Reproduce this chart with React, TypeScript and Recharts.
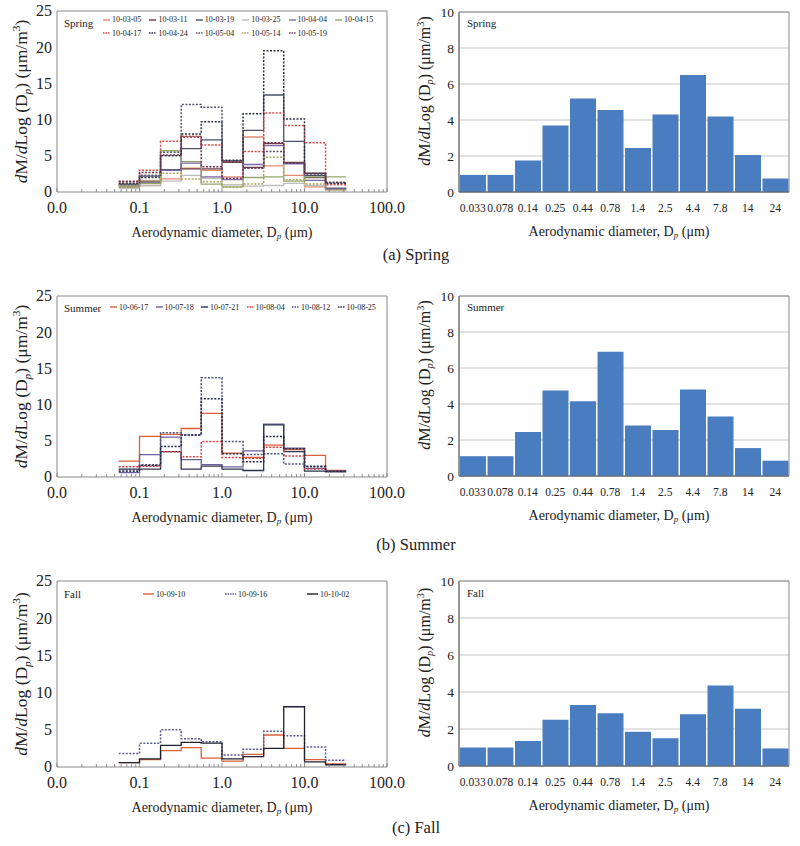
import React from "react";
import { LineChart, Line, XAxis, YAxis, BarChart, Bar, CartesianGrid, ReferenceArea, Legend } from "recharts";

const FONT = "Liberation Serif, Times New Roman, serif";
const SVG_TEXT: React.CSSProperties = { fontFamily: FONT };

// impactor stage edges (um) and the labels of the averaged bars
const BIN_EDGES = [0.056, 0.1, 0.18, 0.32, 0.56, 1.0, 1.8, 3.2, 5.6, 10, 18, 32];
const SIZE_LABELS = ["0.033", "0.078", "0.14", "0.25", "0.44", "0.78", "1.4", "2.5", "4.4", "7.8", "14", "24"];
const X_MAJOR = [0.01, 0.1, 1, 10, 100];
const X_TICKS = [
  0.01, 0.02, 0.03, 0.04, 0.05, 0.06, 0.07, 0.08, 0.09,
  0.1, 0.2, 0.3, 0.4, 0.5, 0.6, 0.7, 0.8, 0.9,
  1, 2, 3, 4, 5, 6, 7, 8, 9,
  10, 20, 30, 40, 50, 60, 70, 80, 90, 100,
];
const LEFT_Y_TICKS = [0, 5, 10, 15, 20, 25];
const RIGHT_Y_TICKS = [0, 2, 4, 6, 8, 10];

const SPRING_NAMES = ["10-03-05", "10-03-11", "10-03-19", "10-03-25", "10-04-04", "10-04-15", "10-04-17", "10-04-24", "10-05-04", "10-05-14", "10-05-19"];
const SPRING_VALUES = [
  [0.6, 0.9, 1.8, 3.3, 3.0, 2.1, 7.6, 3.6, 2.3, 0.7, 0.3],
  [1.1, 1.5, 3.0, 3.2, 3.2, 4.1, 3.4, 6.7, 4.1, 2.0, 0.5],
  [1.0, 2.2, 3.1, 6.0, 7.2, 4.2, 8.5, 13.4, 7.0, 2.3, 0.5],
  [0.5, 0.9, 1.5, 2.3, 1.9, 1.0, 0.8, 0.9, 1.2, 0.9, 0.3],
  [0.8, 1.3, 3.0, 4.0, 2.1, 1.7, 3.8, 6.4, 3.9, 1.6, 0.4],
  [0.7, 1.2, 5.7, 4.2, 1.1, 0.7, 2.0, 2.1, 1.5, 2.1, 2.1],
  [1.4, 3.0, 7.0, 7.7, 6.5, 4.2, 5.6, 10.9, 9.2, 6.8, 1.0],
  [1.2, 2.0, 5.0, 8.0, 9.7, 4.4, 10.8, 19.5, 10.1, 2.6, 1.2],
  [1.0, 2.3, 5.5, 12.1, 11.7, 4.3, 3.3, 5.6, 4.0, 2.5, 1.3],
  [0.9, 1.6, 2.6, 1.8, 1.4, 0.7, 1.1, 4.8, 1.7, 1.1, 0.3],
  [1.5, 2.7, 5.1, 7.6, 3.5, 1.9, 3.3, 6.8, 4.0, 2.6, 1.3],
];
const SPRING_COLORS = ["#e58a72", "#6b3f4c", "#4a5068", "#bdbdbd", "#7d6aa6", "#93a66a", "#d24a40", "#2e3246", "#55566a", "#aaa85e", "#6e2f4e"];
const SPRING_DOTTED = [false, false, false, false, false, false, true, true, true, true, true];
const SPRING_MEAN = [0.95, 0.95, 1.75, 3.7, 5.2, 4.55, 2.45, 4.3, 6.5, 4.2, 2.05, 0.75];

const SUMMER_NAMES = ["10-06-17", "10-07-18", "10-07-21", "10-08-04", "10-08-12", "10-08-25"];
const SUMMER_VALUES = [
  [2.2, 5.6, 5.9, 6.7, 8.8, 3.3, 2.7, 4.4, 3.8, 3.0, 0.9],
  [0.6, 3.1, 5.5, 2.4, 1.7, 1.4, 3.6, 7.3, 4.0, 1.2, 0.8],
  [1.1, 1.1, 3.5, 1.1, 1.5, 1.1, 0.9, 7.2, 3.5, 0.8, 0.7],
  [1.4, 1.5, 3.5, 2.8, 4.9, 2.7, 2.6, 4.1, 2.9, 1.1, 0.8],
  [1.0, 1.7, 6.1, 5.8, 13.7, 4.9, 3.1, 3.2, 1.8, 1.4, 0.8],
  [0.8, 1.6, 4.2, 5.8, 10.8, 3.2, 2.1, 5.6, 3.9, 1.5, 0.8],
];
const SUMMER_COLORS = ["#d8603c", "#6c609c", "#2e3450", "#e04040", "#4c5274", "#262a48"];
const SUMMER_DOTTED = [false, false, false, true, true, true];
const SUMMER_MEAN = [1.1, 1.1, 2.45, 4.75, 4.15, 6.9, 2.8, 2.55, 4.8, 3.3, 1.55, 0.85];

const FALL_NAMES = ["10-09-10", "10-09-16", "10-10-02"];
const FALL_VALUES = [
  [0.6, 1.0, 2.2, 2.6, 1.2, 0.8, 1.7, 4.3, 2.5, 1.0, 0.4],
  [1.8, 3.2, 5.0, 3.8, 3.4, 1.6, 2.4, 4.8, 4.2, 2.7, 0.9],
  [0.6, 1.1, 2.9, 3.3, 3.2, 1.1, 1.4, 2.5, 8.1, 0.7, 0.3],
];
const FALL_COLORS = ["#d8603c", "#5a5a92", "#202030"];
const FALL_DOTTED = [false, true, false];
const FALL_MEAN = [1.0, 1.0, 1.35, 2.5, 3.3, 2.85, 1.85, 1.5, 2.8, 4.35, 3.1, 0.95];

// one row per bin edge; the last edge repeats the last bin so stepAfter closes it
function stepRows(names: string[], values: number[][]) {
  return BIN_EDGES.map((edge, i) => {
    const row: any = { d: edge };
    names.forEach((n, s) => {
      row[n] = values[s][Math.min(i, values[s].length - 1)];
    });
    return row;
  });
}

const LogTick = (props: any) => {
  const { x, y, payload } = props;
  const v = payload.value;
  const major = X_MAJOR.some((m) => Math.abs(m - v) / m < 1e-6);
  return (
    <g>
      <line x1={x} y1={y} x2={x} y2={y - (major ? 4 : 3)} stroke="#777" strokeWidth={0.8} />
      {major && (
        <text x={x} y={y + 21} textAnchor="middle" fontSize={16} style={SVG_TEXT} fill="#222">
          {v.toFixed(1)}
        </text>
      )}
    </g>
  );
};

const CatTick = (props: any) => {
  const { x, y, payload } = props;
  return (
    <text x={x} y={y + 20} textAnchor="middle" fontSize={11.5} style={SVG_TEXT} fill="#222">
      {payload.value}
    </text>
  );
};

const ValueTick = (props: any) => {
  const { x, y, payload, fs } = props;
  return (
    <text x={x} y={y} dy={fs * 0.34} textAnchor="end" fontSize={fs} style={SVG_TEXT} fill="#222">
      {payload.value}
    </text>
  );
};

const YTitle = ({ tx, ty, fs }: any) => (
  <text transform={`translate(${tx},${ty}) rotate(-90)`} textAnchor="middle" fontSize={fs} style={SVG_TEXT} fill="#222">
    <tspan fontStyle="italic">d</tspan>M/<tspan fontStyle="italic">d</tspan>Log (D
    <tspan fontStyle="italic" fontSize={fs * 0.65} dy={fs * 0.2}>p</tspan>
    <tspan dy={-fs * 0.2}>) (μm/m</tspan>
    <tspan fontSize={fs * 0.65} dy={-fs * 0.4}>3</tspan>
    <tspan dy={fs * 0.4}>)</tspan>
  </text>
);

const XTitle = ({ tx, ty }: any) => (
  <text x={tx} y={ty} textAnchor="middle" fontSize={14} style={SVG_TEXT} fill="#222">
    Aerodynamic diameter, D
    <tspan fontStyle="italic" fontSize={9} dy={2}>p</tspan>
    <tspan dy={-2}> (μm)</tspan>
  </text>
);

function SeriesLegend({ season, names, colors, dotted, pos, seasonY }: any) {
  return (
    <div style={{ position: "relative", width: 400, height: 45, fontFamily: FONT, color: "#222" }}>
      <span style={{ position: "absolute", left: 64, top: seasonY - 7, fontSize: 11, lineHeight: "14px" }}>{season}</span>
      {names.map((n: string, i: number) => {
        const p = pos(i);
        return (
          <div
            key={n}
            style={{ position: "absolute", left: p.x, top: p.y - 5, height: 10, display: "flex", alignItems: "center", fontSize: 8, whiteSpace: "nowrap" }}
          >
            <svg width={p.len} height={4}>
              <line x1={0} y1={2} x2={p.len} y2={2} stroke={colors[i]} strokeWidth={1.4} strokeDasharray={dotted[i] ? "1.5 1" : undefined} />
            </svg>
            <span style={{ marginLeft: 2 }}>{n}</span>
          </div>
        );
      })}
    </div>
  );
}

function StepPanel({ names, values, colors, dotted, season, pos, seasonY, plotTop, plotH }: any) {
  const rows = stepRows(names, values);
  const height = 250;
  const axisH = 45;
  return (
    <LineChart width={420} height={height} data={rows} margin={{ top: plotTop, right: 33, left: 17, bottom: height - plotTop - plotH - axisH }}>
      <ReferenceArea x1={0.01} x2={100} y1={0} y2={25} fill="none" fillOpacity={0} stroke="#8a8a8a" strokeWidth={1} />
      <XAxis
        dataKey="d"
        type="number"
        scale="log"
        domain={[0.01, 100]}
        ticks={X_TICKS}
        interval={0}
        allowDataOverflow
        axisLine={false}
        tickLine={false}
        tickSize={0}
        tickMargin={0}
        height={axisH}
        tick={<LogTick />}
        label={<XTitle tx={222} ty={plotTop + plotH + 45} />}
      />
      <YAxis
        type="number"
        domain={[0, 25]}
        ticks={LEFT_Y_TICKS}
        width={40}
        axisLine={false}
        tickLine={false}
        tickSize={0}
        tickMargin={5}
        tick={<ValueTick fs={16} />}
        label={<YTitle tx={27} ty={plotTop + plotH / 2} fs={17.5} />}
      />
      <Legend
        layout="vertical"
        align="center"
        verticalAlign="middle"
        wrapperStyle={{ left: 0, top: 0, width: 400, height: 45 }}
        content={() => <SeriesLegend season={season} names={names} colors={colors} dotted={dotted} pos={pos} seasonY={seasonY} />}
      />
      {names.map((n: string, i: number) => (
        <Line
          key={n}
          dataKey={n}
          type="stepAfter"
          stroke={colors[i]}
          strokeWidth={dotted[i] ? 1.5 : 1.3}
          strokeDasharray={dotted[i] ? "2 1.5" : undefined}
          dot={false}
          activeDot={false}
          isAnimationActive={false}
        />
      ))}
    </LineChart>
  );
}

function BarPanel({ values, season, plotTop, plotH, seasonY }: any) {
  const rows = SIZE_LABELS.map((s, i) => ({ size: s, value: values[i] }));
  const height = 250;
  const axisH = 45;
  return (
    <BarChart width={400} height={height} data={rows} barCategoryGap={1} margin={{ top: plotTop, right: 11, left: 19, bottom: height - plotTop - plotH - axisH }}>
      <CartesianGrid vertical={false} stroke="#c4c4c4" />
      <ReferenceArea y1={0} y2={10} fill="none" fillOpacity={0} stroke="#8a8a8a" strokeWidth={1} />
      <XAxis
        dataKey="size"
        axisLine={{ stroke: "#666" }}
        tickLine={false}
        tickSize={0}
        tickMargin={0}
        height={axisH}
        interval={0}
        tick={<CatTick />}
        label={<XTitle tx={219} ty={plotTop + plotH + 44} />}
      />
      <YAxis
        type="number"
        domain={[0, 10]}
        ticks={RIGHT_Y_TICKS}
        width={40}
        axisLine={{ stroke: "#666" }}
        tickLine={false}
        tickSize={0}
        tickMargin={5}
        tick={<ValueTick fs={13.5} />}
        label={<YTitle tx={30} ty={plotTop + plotH / 2 - 11} fs={16} />}
      />
      <Legend
        layout="vertical"
        align="center"
        verticalAlign="middle"
        wrapperStyle={{ left: 0, top: 0, width: 400, height: 45 }}
        content={() => (
          <div style={{ position: "relative", width: 400, height: 45, fontFamily: FONT, color: "#222" }}>
            <span style={{ position: "absolute", left: 67, top: seasonY - 7, fontSize: 11, lineHeight: "14px" }}>{season}</span>
          </div>
        )}
      />
      <Bar dataKey="value" fill="#4a7dc0" isAnimationActive={false} />
    </BarChart>
  );
}

const captionStyle: React.CSSProperties = {
  position: "absolute",
  left: 316,
  width: 200,
  textAlign: "center",
  fontFamily: FONT,
  fontSize: 16.5,
  lineHeight: "20px",
  color: "#222",
};

export default function App() {
  return (
    <div style={{ position: "absolute", left: 0, top: 0, width: 800, height: 846, background: "#fff", overflow: "hidden", fontFamily: FONT }}>
      {/* (a) Spring */}
      <div style={{ position: "absolute", left: 0, top: 0 }}>
        <StepPanel
          names={SPRING_NAMES}
          values={SPRING_VALUES}
          colors={SPRING_COLORS}
          dotted={SPRING_DOTTED}
          season="Spring"
          seasonY={23}
          plotTop={11}
          plotH={181}
          pos={(i: number) => ({ x: 103 + (i % 6) * 46.4, y: i < 6 ? 19.5 : 33, len: 7 })}
        />
      </div>
      <div style={{ position: "absolute", left: 400, top: 0 }}>
        <BarPanel values={SPRING_MEAN} season="Spring" seasonY={23} plotTop={12} plotH={180} />
      </div>
      <div style={{ ...captionStyle, top: 245 }}>(a) Spring</div>

      {/* (b) Summer */}
      <div style={{ position: "absolute", left: 0, top: 285 }}>
        <StepPanel
          names={SUMMER_NAMES}
          values={SUMMER_VALUES}
          colors={SUMMER_COLORS}
          dotted={SUMMER_DOTTED}
          season="Summer"
          seasonY={23}
          plotTop={11}
          plotH={181}
          pos={(i: number) => ({ x: 110 + i * 45.5, y: 22, len: 7 })}
        />
      </div>
      <div style={{ position: "absolute", left: 400, top: 285 }}>
        <BarPanel values={SUMMER_MEAN} season="Summer" seasonY={22} plotTop={11} plotH={180} />
      </div>
      <div style={{ ...captionStyle, top: 535 }}>(b) Summer</div>

      {/* (c) Fall */}
      <div style={{ position: "absolute", left: 0, top: 570 }}>
        <StepPanel
          names={FALL_NAMES}
          values={FALL_VALUES}
          colors={FALL_COLORS}
          dotted={FALL_DOTTED}
          season="Fall"
          seasonY={24}
          plotTop={11}
          plotH={186}
          pos={(i: number) => ({ x: 143 + i * 82, y: 24, len: 11 })}
        />
      </div>
      <div style={{ position: "absolute", left: 400, top: 570 }}>
        <BarPanel values={FALL_MEAN} season="Fall" seasonY={23} plotTop={11} plotH={185} />
      </div>
      <div style={{ ...captionStyle, top: 818 }}>(c) Fall</div>
    </div>
  );
}
